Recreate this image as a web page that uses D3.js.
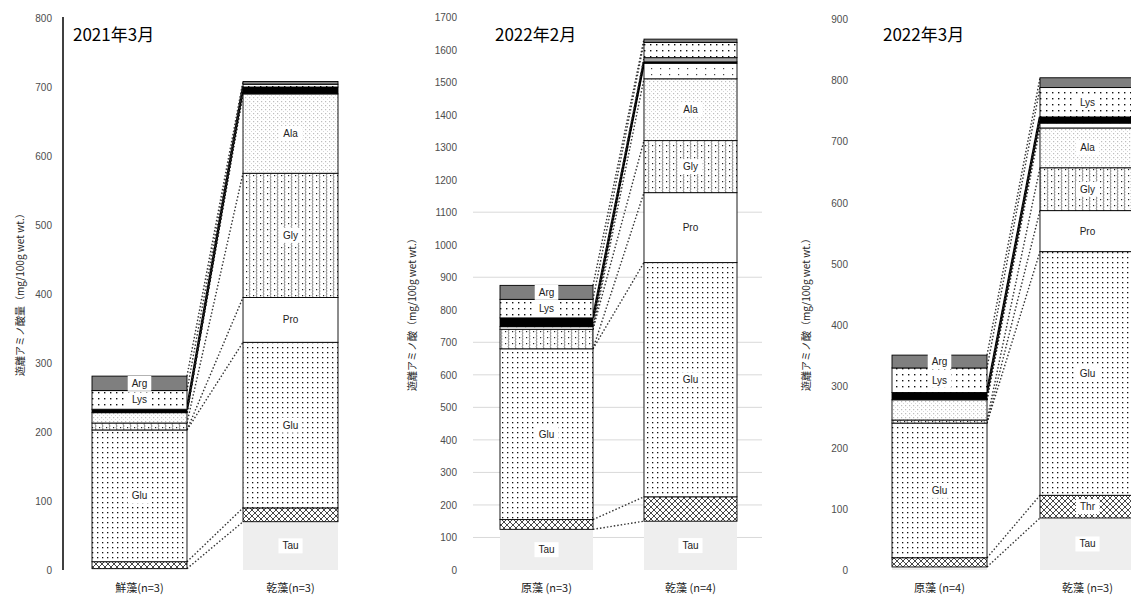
<!DOCTYPE html>
<html>
<head>
<meta charset="utf-8">
<script src="https://cdn.jsdelivr.net/npm/d3@7"></script>
<style>
  body { margin: 0; background: #fff; }
  svg { display: block; }
</style>
</head>
<body>
<svg id="chart" width="1131" height="601"></svg>
<script>
// amino acids, stacked bottom -> top
const aminoAcids = ["Tau", "Thr", "Glu", "Pro", "Gly", "Ala", "Val", "Leu", "His", "Lys", "Arg"];

const titles = ["2021年3月", "2022年2月", "2022年3月"];
const yTitles = ["遊離アミノ酸量（mg/100g wet wt.）", "遊離アミノ酸（mg/100g wet wt.）", "遊離アミノ酸（mg/100g wet wt.）"];

const categories2021_03 = ["鮮藻(n=3)", "乾藻(n=3)"];
const categories2022_02 = ["原藻 (n=3)", "乾藻 (n=4)"];
const categories2022_03 = ["原藻 (n=4)", "乾藻 (n=3)"];

// mg/100g wet wt., same order as aminoAcids
const values2021_03 = [
  [2, 10, 191, 0, 10, 15, 0, 5, 0, 27, 21],
  [70, 20, 240, 65, 180, 115, 0, 10, 0, 4, 4]
];
const values2022_02 = [
  [125, 30, 525, 0, 60, 0, 8, 27, 0, 57, 43],
  [150, 75, 720, 215, 160, 190, 48, 4, 13, 47, 10]
];
const values2022_03 = [
  [5, 15, 220, 0, 5, 33, 0, 12, 0, 40, 21],
  [85, 37, 398, 67, 70, 65, 8, 10, 0, 48, 16]
];

// which segments carry a name tag
const labels2021_03 = [["Glu", "Lys", "Arg"], ["Tau", "Glu", "Pro", "Gly", "Ala"]];
const labels2022_02 = [["Tau", "Glu", "Lys", "Arg"], ["Tau", "Glu", "Pro", "Gly", "Ala"]];
const labels2022_03 = [["Glu", "Lys", "Arg"], ["Tau", "Thr", "Glu", "Pro", "Gly", "Ala", "Lys"]];

const yMaxes = [800, 1700, 900];
const gridValues2022_02 = [100, 200, 300, 400, 500, 600, 700, 900, 1100];

const svg = d3.select("#chart");
const defs = svg.append("defs");

// fill patterns
function pattern(id, w, h, bg) {
  const p = defs.append("pattern").attr("id", id)
    .attr("patternUnits", "userSpaceOnUse").attr("width", w).attr("height", h);
  p.append("rect").attr("width", w).attr("height", h).attr("fill", bg || "#fff");
  return p;
}
let p = pattern("pThr", 6, 6);
p.append("path").attr("d", "M0,0 L3,3 L6,0 M0,6 L3,3 L6,6").attr("fill", "none").attr("stroke", "#333").attr("stroke-width", 0.9);
p = pattern("pGlu", 5, 5);
p.append("rect").attr("x", 2).attr("y", 2).attr("width", 1.3).attr("height", 1.3).attr("fill", "#111");
p = pattern("pGly", 7, 6);
p.append("rect").attr("x", 1).attr("y", 1).attr("width", 1.2).attr("height", 1.2).attr("fill", "#222");
p.append("path").attr("d", "M5,0 L4.2,1.5 L5,3 L4.2,4.5 L5,6").attr("fill", "none").attr("stroke", "#444").attr("stroke-width", 0.7);
p = pattern("pAla", 4, 4);
p.append("rect").attr("x", 1).attr("y", 1).attr("width", 1.2).attr("height", 1.2).attr("fill", "#bdbdbd");
p.append("rect").attr("x", 3).attr("y", 3).attr("width", 1).attr("height", 1).attr("fill", "#d6d6d6");
p = pattern("pVal", 9, 6);
p.append("rect").attr("x", 3).attr("y", 2).attr("width", 1.2).attr("height", 1.2).attr("fill", "#444");
p = pattern("pLys", 6, 6);
p.append("rect").attr("x", 2).attr("y", 2).attr("width", 1.4).attr("height", 1.4).attr("fill", "#111");

const fills = {
  Tau: "#eeeeee", Thr: "url(#pThr)", Glu: "url(#pGlu)", Pro: "#ffffff", Gly: "url(#pGly)",
  Ala: "url(#pAla)", Val: "url(#pVal)", Leu: "#000000", His: "#a6a6a6", Lys: "url(#pLys)", Arg: "#7f7f7f"
};

// layout of the three panels
const panels = [
  { cats: categories2021_03, vals: values2021_03, labels: labels2021_03, grid: [],
    x0: 92, x1: 338, pad: 0.371, top: 18, tickX: 52, axisLine: 63, titleX: 73, yTitleX: 20, yTitleY: 292 },
  { cats: categories2022_02, vals: values2022_02, labels: labels2022_02, grid: gridValues2022_02,
    x0: 500, x1: 737, pad: 0.354, top: 17, tickX: 457, axisLine: null, titleX: 495, yTitleX: 412, yTitleY: 312,
    gridFrom: 473, gridTo: 762 },
  { cats: categories2022_03, vals: values2022_03, labels: labels2022_03, grid: [],
    x0: 892, x1: 1135, pad: 0.358, top: 19, tickX: 848, axisLine: null, titleX: 883, yTitleX: 806, yTitleY: 312 }
];

const bottom = 570;

panels.forEach((pn, pi) => {
  const g = svg.append("g");
  const x = d3.scaleBand().domain(pn.cats).range([pn.x0, pn.x1]).paddingInner(pn.pad).paddingOuter(0);
  const y = d3.scaleLinear().domain([0, yMaxes[pi]]).range([bottom, pn.top]);
  const bw = x.bandwidth();

  // gridlines
  g.selectAll(".grid").data(pn.grid).enter().append("line")
    .attr("x1", pn.gridFrom).attr("x2", pn.gridTo)
    .attr("y1", d => y(d)).attr("y2", d => y(d))
    .attr("stroke", "#d9d9d9").attr("stroke-width", 1);

  // y axis
  const axis = g.append("g").attr("transform", `translate(${pn.tickX},0)`)
    .call(d3.axisLeft(y).tickValues(d3.range(0, yMaxes[pi] + 1, 100))
      .tickFormat(d3.format("d")).tickSize(0).tickPadding(0));
  axis.select(".domain").remove();
  axis.selectAll("text").attr("font-family", "Liberation Sans, Arial, sans-serif")
    .attr("font-size", 10).attr("fill", "#4d4d4d").attr("dy", "0.35em");

  if (pn.axisLine) {
    g.append("line").attr("x1", pn.axisLine).attr("x2", pn.axisLine)
      .attr("y1", pn.top - 1).attr("y2", bottom)
      .attr("stroke", "#404040").attr("stroke-width", 2);
  }

  // y title
  g.append("text")
    .attr("transform", `translate(${pn.yTitleX},${pn.yTitleY}) rotate(-90)`)
    .attr("text-anchor", "middle").attr("dy", "0.35em")
    .attr("font-family", "Noto Sans CJK JP, sans-serif").attr("font-size", 10).attr("fill", "#222")
    .text(yTitles[pi]);

  // panel title
  g.append("text").attr("x", pn.titleX).attr("y", 41)
    .attr("font-family", "Noto Sans CJK JP, sans-serif").attr("font-size", 17).attr("fill", "#000")
    .text(titles[pi]);

  // stacked data
  const rows = pn.cats.map((c, i) => {
    const o = { cat: c };
    aminoAcids.forEach((a, j) => o[a] = pn.vals[i][j]);
    return o;
  });
  const stacked = d3.stack().keys(aminoAcids)(rows);

  // series lines between the two bars
  g.selectAll(".sline").data(stacked).enter().append("line")
    .attr("x1", x(pn.cats[0]) + bw).attr("x2", x(pn.cats[1]))
    .attr("y1", d => y(d[0][1])).attr("y2", d => y(d[1][1]))
    .attr("stroke", d => d.key === "Leu" ? "#000" : "#333")
    .attr("stroke-width", d => d.key === "Leu" ? 2.5 : 1.4)
    .attr("stroke-dasharray", d => d.key === "Leu" ? null : "1.5,2");

  // segments
  const layer = g.selectAll(".layer").data(stacked).enter().append("g");
  layer.selectAll("rect")
    .data(d => d.map(s => ({ key: d.key, cat: s.data.cat, y0: s[0], y1: s[1] })).filter(s => s.y1 > s.y0))
    .enter().append("rect")
    .attr("x", d => x(d.cat)).attr("width", bw)
    .attr("y", d => y(d.y1)).attr("height", d => y(d.y0) - y(d.y1))
    .attr("fill", d => fills[d.key])
    .attr("stroke", d => d.key === "Tau" ? "none" : "#000")
    .attr("stroke-width", 0.9);

  // segment labels with white tags
  stacked.forEach(ly => {
    ly.forEach((s, bi) => {
      if (!pn.labels[bi].includes(ly.key)) return;
      const cx = x(pn.cats[bi]) + bw / 2;
      const cy = y((s[0] + s[1]) / 2);
      const tag = g.append("g");
      const t = tag.append("text").attr("x", cx).attr("y", cy).attr("dy", "0.35em")
        .attr("text-anchor", "middle")
        .attr("font-family", "Liberation Sans, Arial, sans-serif").attr("font-size", 10).attr("fill", "#222")
        .text(ly.key);
      const bb = t.node().getBBox();
      tag.insert("rect", "text").attr("x", bb.x - 4).attr("y", bb.y - 2)
        .attr("width", bb.width + 8).attr("height", bb.height + 4).attr("fill", "#fff");
    });
  });

  // category labels
  g.selectAll(".cat").data(pn.cats).enter().append("text")
    .attr("x", d => x(d) + bw / 2).attr("y", 592)
    .attr("text-anchor", "middle")
    .attr("font-family", "Noto Sans CJK JP, sans-serif").attr("font-size", 11).attr("fill", "#222")
    .text(d => d);
});
</script>
</body>
</html>
